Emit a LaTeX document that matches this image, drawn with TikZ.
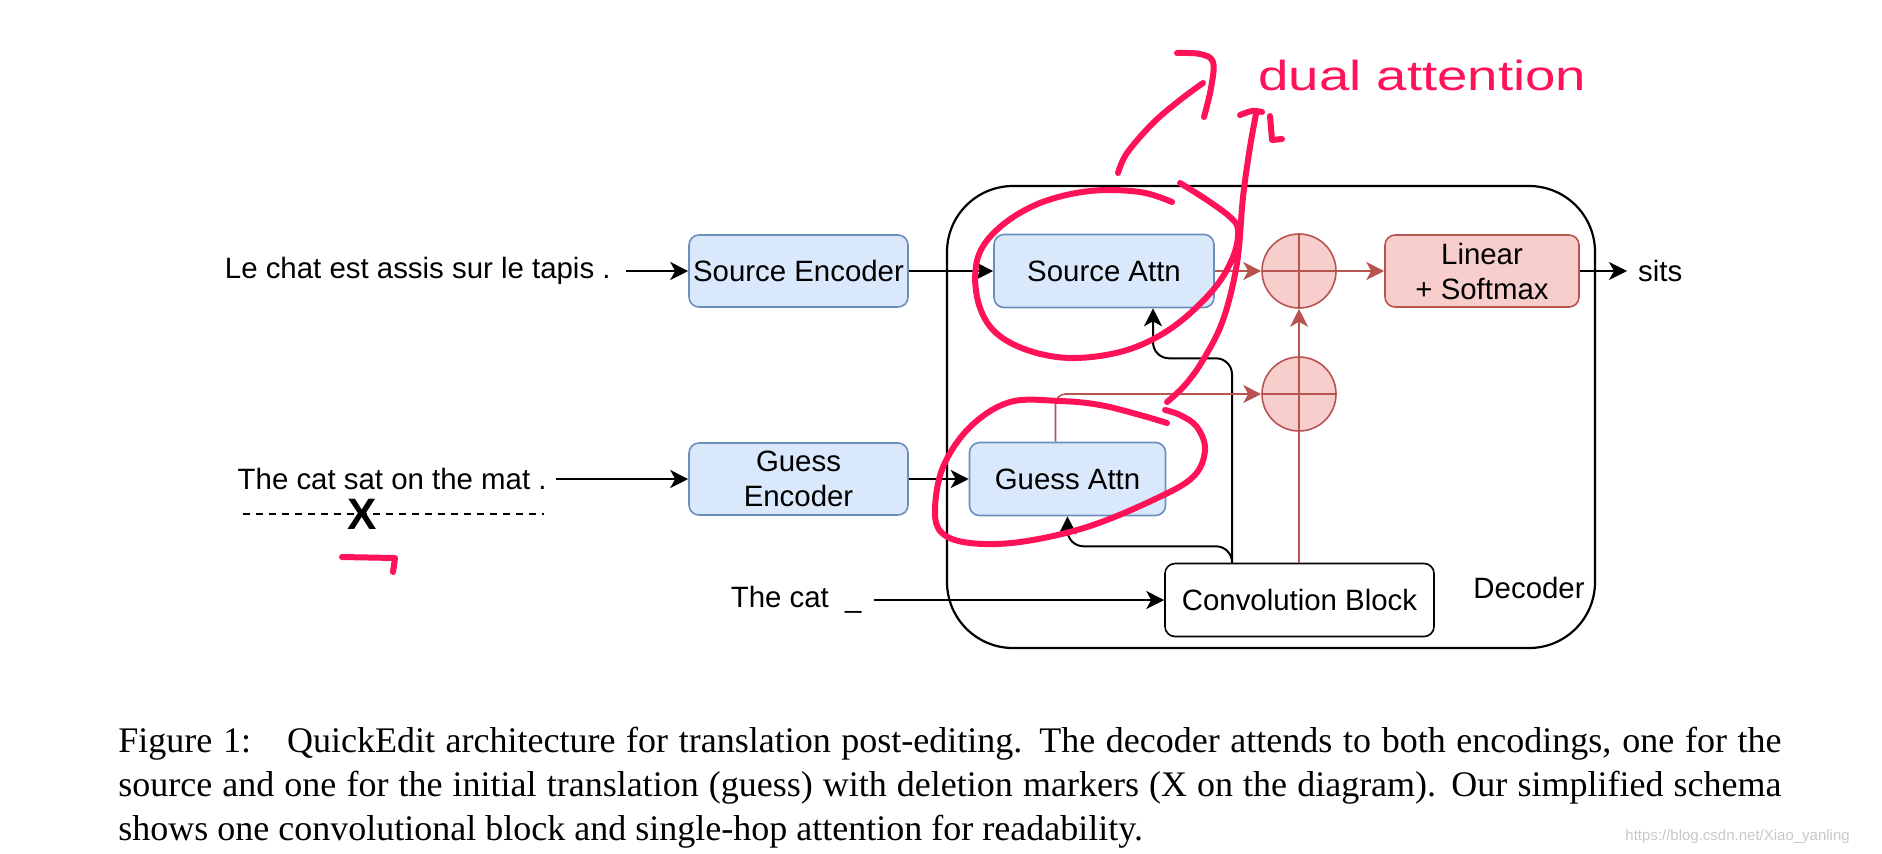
\documentclass[tikz,border=0pt]{standalone}
\usepackage{fontspec}
\setmainfont{Liberation Sans}
\newfontfamily\capfont{Liberation Serif}
\usetikzlibrary{arrows.meta}
\definecolor{encfill}{HTML}{DAE8FC}
\definecolor{encdraw}{HTML}{6C8EBF}
\definecolor{outfill}{HTML}{F8CECC}
\definecolor{outdraw}{HTML}{B85450}
\definecolor{inkpink}{RGB}{255,18,88}
\definecolor{markgray}{HTML}{C8C8C8}

\begin{document}
\begin{tikzpicture}[x=0.5pt, y=-0.5pt,
        every node/.style={font=\fontsize{14.7}{17.5}\selectfont, align=center},
        encbox/.style={rectangle, rounded corners=5pt, draw=encdraw, fill=encfill, line width=0.8pt, minimum width=109.5pt, minimum height=36pt, inner xsep=1pt},
        outbox/.style={encbox, draw=outdraw, fill=outfill},
        convbox/.style={encbox, draw=black, fill=white},
        sumnode/.style={circle, draw=outdraw, fill=outfill, line width=0.8pt, minimum size=37pt, inner sep=0pt,
            path picture={\draw[outdraw, line width=0.8pt] (path picture bounding box.north) -- (path picture bounding box.south)
                (path picture bounding box.west) -- (path picture bounding box.east);}},
        arr/.style={-{Stealth[length=9pt, width=9pt, inset=2.5pt]}, line width=1pt},
        redarr/.style={arr, draw=outdraw, line width=0.8pt},
        ink/.style={draw=inkpink, line width=3pt, line cap=round, line join=round}]
                \useasboundingbox (0,0) rectangle (1882,853);
                \node[draw, line width=1.1pt, rounded corners=33pt, minimum width=324pt, minimum height=231pt] (decoder) at (1271,417) {};
                \node[anchor=east, inner sep=0pt] (declabel) at (1585,588) {Decoder};

                \node[anchor=east, inner xsep=7.5pt] (srctxt) at (626,271) {Le chat est assis sur le tapis .};
                \node[anchor=east, inner xsep=4.5pt] (gsstxt) at (556,479) {The cat sat on the mat .};
                \node[anchor=east, inner xsep=6pt] (prevtxt) at (874,600) {The cat \ \_};
                \node[anchor=west, inner xsep=5.4pt] (outtxt) at (1627,271) {sits};

                \node[encbox] (srcenc) at (798.5,271) {Source Encoder};
                \node[encbox] (gssenc) at (798.5,479) {Guess\\Encoder};
                \node[encbox, minimum width=110pt, minimum height=36.5pt] (srcattn) at (1104,271) {Source Attn};
                \node[encbox, minimum width=98pt, minimum height=36.5pt] (gssattn) at (1067.5,479) {Guess Attn};
                \node[sumnode] (sumtop) at (1299,271) {};
                \node[sumnode] (sumlow) at (1299,394) {};
                \node[outbox, minimum width=97pt] (linsoft) at (1482,271) {Linear\\+ Softmax};
                \node[convbox, minimum width=134.5pt, minimum height=36.5pt] (convblk) at (1299.5,600) {Convolution Block};

                \draw[arr] (srctxt) -- (srcenc);
                \draw[arr] (gsstxt) -- (gssenc);
                \draw[arr] (prevtxt) -- (convblk);
                \draw[arr] (srcenc) -- (srcattn);
                \draw[arr] (gssenc) -- (gssattn);
                \draw[arr] (linsoft) -- (outtxt);
                \draw[arr, rounded corners=8pt] ([xshift=-33.75pt]convblk.north) |- ([xshift=24.5pt, yshift=-25pt]srcattn.south) -- ([xshift=24.5pt]srcattn.south);
                \draw[arr, rounded corners=8pt] ([xshift=-33.75pt]convblk.north) |- ([yshift=-15pt]gssattn.south) -- (gssattn.south);
                \draw[redarr] (srcattn) -- (sumtop);
                \draw[redarr] (sumtop) -- (linsoft);
                \draw[redarr] (sumlow) -- (sumtop);
                \draw[redarr, rounded corners=5pt] ([xshift=-6pt]gssattn.north) |- (sumlow);
                \draw[outdraw, line width=0.8pt] (sumlow.south |- convblk.north) -- (sumlow.south);

                % deleted word in the guess
                \draw[line width=0.6pt, dash pattern=on 3.5pt off 3pt] (243,514) -- (544,514);
                \node[inner sep=0pt, font=\fontsize{22}{22}\selectfont\bfseries] (delmark) at (362,514) {X};

                % hand-written notes
                \draw[ink] plot[smooth, tension=0.6] coordinates {(1172,202) (1140,192) (1090,191) (1040,203) (1000,227) (978,257) (977,297) (993,330) (1027,350) (1073,358) (1127,350) (1173,327) (1213,290) (1233,257) (1238,230) (1230,217) (1207,200) (1180,183)};
                \draw[ink] plot[smooth, tension=0.6] coordinates {(1118,173) (1127,153) (1153,123) (1180,100) (1203,83)};
                \draw[ink] plot[smooth, tension=0.6] coordinates {(1177,53) (1200,54) (1213,62) (1211,88) (1204,117)};
                \draw[ink] plot[smooth, tension=0.6] coordinates {(1167,402) (1185,385) (1203,360) (1223,320) (1237,263) (1243,197) (1250,147) (1256,114)};
                \draw[ink] plot[smooth, tension=0.6] coordinates {(1240,115) (1252,111) (1262,112)};
                \draw[ink] (1270,116) -- (1272,140) -- (1282,139);
                \draw[ink] plot[smooth, tension=0.6] coordinates {(1167,423) (1140,415) (1100,405) (1060,401) (1010,402) (970,427) (943,467) (935,510) (942,533) (970,543) (1020,542) (1087,527) (1153,500) (1193,477) (1205,450) (1197,427) (1180,415) (1165,410)};
                \draw[ink] (342,557) -- (395,558) -- (393,572);
                \node[anchor=base west, inner sep=0pt, text=inkpink, font=\fontsize{21}{21}\selectfont] (note) at (1258,90) {\scalebox{1.3}[1]{dual attention}};

                % caption
                \node[anchor=base west, inner sep=0pt, font=\capfont\fontsize{18}{18}\selectfont] (capone) at (118,752)
                    {\makebox[831.5pt][s]{Figure 1:\quad QuickEdit architecture for translation post-editing. The decoder attends to both encodings, one for the}};
                \node[anchor=base west, inner sep=0pt, font=\capfont\fontsize{18}{18}\selectfont] (captwo) at (118,796)
                    {\makebox[831.5pt][s]{source and one for the initial translation (guess) with deletion markers (X on the diagram). Our simplified schema}};
                \node[anchor=base west, inner sep=0pt, font=\capfont\fontsize{18}{18}\selectfont] (capthree) at (118,840)
                    {shows one convolutional block and single-hop attention for readability.};
                \node[anchor=base west, inner sep=0pt, text=markgray, font=\fontsize{7.5}{8}\selectfont] (wmark) at (1625,840) {https://blog.csdn.net/Xiao\_yanling};
            \end{tikzpicture}
\end{document}
